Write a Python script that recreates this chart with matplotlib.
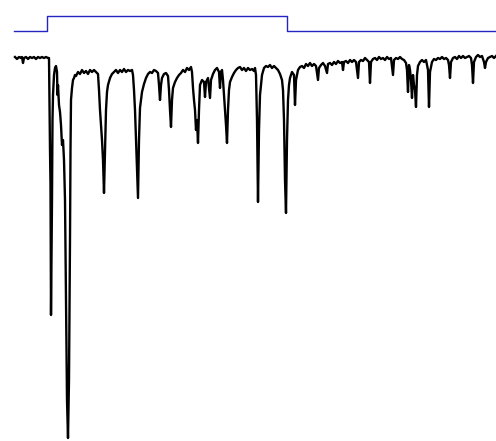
import matplotlib
matplotlib.use("Agg")
import matplotlib.pyplot as plt

STIM_COLOR = '#2424c0'
TRACE_COLOR = 'black'

# stimulus step (on / off), same vertical units as the trace
stim_t = [14, 47, 287, 496]
stim_level = [31, 16, 31, 31]

# current trace (inward deflection plotted downwards)
trace_t = [
    15, 17, 19, 21, 22, 23, 24, 26, 28, 30, 32, 34, 36, 38, 40, 42, 44, 46, 48, 49,
    50, 50.5, 51, 52, 52.5, 53, 54, 55, 56, 57, 57.5, 58, 59, 60, 61, 62, 63, 64,
    65, 66, 67, 68, 69, 70, 70.5, 71, 72, 73, 74, 75, 76, 78, 80, 82, 84, 86, 88, 90, 92, 94, 96,
    98, 99, 100, 101, 102, 103, 104, 105, 106, 107, 108, 110, 112, 114, 116, 118, 120, 122, 124,
    126, 128, 130, 132, 133, 134, 135, 136, 137, 138, 139, 140, 141, 142, 144, 146, 148, 150,
    152, 154, 156, 158, 159, 160, 161, 162, 164, 166, 168, 169, 170, 171, 172, 173, 175, 177,
    179, 181, 183, 185, 187, 189, 191, 192, 193, 194, 195, 196, 197, 198, 199, 200, 202, 204,
    205, 206, 208, 210, 211, 213, 215, 217, 219, 220, 221, 222, 223, 224, 225, 226, 227, 228,
    229, 230, 232, 234, 236, 238, 240, 242, 244, 246, 248, 250, 252, 254, 255, 256, 257, 258,
    259, 260, 262, 264, 266, 268, 270, 272, 274, 276, 278, 280, 282, 283, 284, 285, 286, 287,
    288, 289, 290, 292, 294, 295, 296, 298, 300, 302, 304, 306, 308, 310, 312, 314, 316, 318,
    319, 321, 323, 325, 327, 328, 330, 332, 334, 336, 338, 340, 342, 343, 344, 346, 348, 350,
    352, 354, 356, 358, 359, 361, 363, 365, 367, 369, 370, 371, 373, 375, 377, 379, 381, 383,
    385, 387, 389, 391, 393, 394, 396, 398, 400, 402, 404, 406, 407, 408, 409, 410, 411, 412,
    413, 414, 415, 416, 417, 418, 420, 422, 424, 426, 428, 429, 430, 432, 434, 436, 438, 440,
    442, 444, 446, 448, 449, 450, 451, 453, 455, 457, 459, 461, 463, 465, 467, 469, 471, 472,
    473, 474, 476, 478, 480, 482, 484, 485, 486, 488, 490, 492, 494, 496,
]
trace_amp = [
    57, 59, 57, 58, 57, 63, 58, 57, 59, 57, 58, 57, 59, 57, 58, 57, 58, 57, 58, 58,
    150, 185, 315, 200, 120, 95, 75, 68, 66, 72, 95, 85, 105, 112, 125, 145, 140, 160,
    200, 300, 400, 438, 380, 240, 150, 100, 88, 80, 78, 75, 76, 72, 74, 70, 73, 71, 74, 70, 72, 70, 72,
    74, 90, 110, 125, 140, 160, 193, 150, 110, 92, 85, 78, 74, 72, 70, 73, 70, 72, 69,
    72, 70, 71, 70, 75, 90, 110, 140, 170, 198, 140, 108, 100, 92, 84, 78, 74, 72,
    73, 70, 71, 73, 85, 100, 85, 78, 74, 73, 76, 90, 110, 127, 100, 88, 82, 78,
    75, 73, 70, 72, 68, 70, 67, 72, 88, 100, 110, 130, 120, 143, 110, 85, 80, 82,
    97, 82, 78, 98, 80, 74, 70, 68, 72, 88, 72, 70, 80, 95, 110, 125, 143, 110,
    90, 82, 77, 73, 70, 68, 67, 70, 68, 71, 68, 70, 69, 71, 68, 75, 120, 202,
    130, 95, 75, 68, 66, 67, 65, 68, 66, 68, 70, 74, 80, 90, 120, 180, 213, 140,
    100, 85, 78, 72, 75, 105, 80, 70, 67, 66, 68, 64, 66, 63, 66, 64, 66, 80,
    68, 65, 63, 66, 73, 64, 63, 65, 62, 64, 61, 63, 62, 70, 62, 61, 63, 60,
    62, 60, 62, 78, 62, 60, 61, 58, 60, 62, 83, 62, 59, 58, 60, 57, 59, 58,
    60, 57, 59, 58, 75, 60, 58, 59, 57, 59, 60, 63, 70, 92, 65, 70, 80, 98,
    75, 85, 90, 107, 75, 66, 62, 60, 62, 60, 70, 107, 72, 62, 59, 60, 58, 59,
    57, 59, 58, 60, 65, 78, 62, 58, 57, 59, 56, 58, 56, 58, 57, 56, 58, 65,
    83, 62, 57, 55, 57, 56, 62, 68, 62, 58, 57, 56, 58, 56,
]

fig = plt.figure(figsize=(4.96, 4.41), dpi=100)
ax = fig.add_axes([0, 0, 1, 1])

ax.step(stim_t, stim_level, where='post', color=STIM_COLOR, lw=1.0)
ax.plot(trace_t, trace_amp, color=TRACE_COLOR, lw=1.7)

ax.set_xlim(0, 496)
ax.set_ylim(441, 0)
ax.axis('off')

fig.savefig('out.png', dpi=100)
